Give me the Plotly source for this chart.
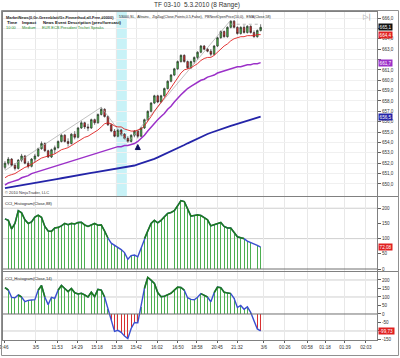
import plotly.graph_objects as go
from plotly.subplots import make_subplots

title_text = "TF 03-10  5.3.2010 (8 Range)"
bar_index = list(range(78))

opens = [651.6,652.0,652.4,651.8,651.5,652.3,652.7,652.0,651.7,652.4,
         652.7,653.4,653.9,653.2,652.6,653.3,653.5,654.1,654.7,654.1,
         653.9,654.8,654.5,655.4,655.9,655.5,655.4,656.2,655.9,656.7,
         657.2,656.5,655.7,655.1,654.6,655.2,654.8,654.4,654.1,654.7,
         655.1,654.6,655.4,656.2,657.0,657.8,658.5,657.9,658.5,659.2,
         659.9,660.5,661.1,661.8,662.4,661.8,661.2,661.8,662.2,662.7,
         663.3,663.0,662.8,662.5,663.3,664.1,664.7,664.2,665.1,665.7,
         665.1,664.5,665.1,664.6,665.2,664.6,664.2,664.8]
highs = [652.2,652.6,652.5,652.0,652.4,652.9,652.8,652.2,652.5,652.9,
         653.5,654.1,654.0,653.3,653.4,653.7,654.2,654.8,654.8,654.4,
         654.9,655.1,655.5,656.1,656.0,655.8,656.3,656.3,656.8,657.4,
         657.3,656.6,655.8,655.3,655.3,655.3,654.9,654.6,654.8,655.2,
         655.2,655.5,656.3,657.1,657.9,658.6,658.6,658.6,659.3,660.0,
         660.6,661.2,661.9,662.5,662.5,661.9,661.9,662.3,662.8,663.4,
         663.4,663.1,663.0,663.4,664.2,664.8,664.8,665.2,665.8,665.8,
         665.2,665.2,665.3,665.3,665.3,664.8,664.9,665.4]
lows = [651.4,651.8,651.7,651.3,651.4,652.1,651.9,651.5,651.6,652.1,
        652.6,653.3,653.1,652.5,652.5,652.9,653.4,654.0,654.0,653.6,
        653.8,654.3,654.4,655.3,655.3,655.1,655.3,655.7,655.8,656.6,
        656.4,655.6,655.0,654.5,654.5,654.6,654.3,654.0,654.0,654.5,
        654.4,654.5,655.3,656.1,656.9,657.7,657.8,657.8,658.4,659.1,
        659.8,660.4,661.0,661.7,661.7,661.1,661.1,661.6,662.0,662.6,
        662.9,662.7,662.3,662.4,663.2,664.0,664.1,664.1,665.0,665.0,
        664.4,664.4,664.5,664.5,664.5,664.1,664.1,664.7]
closes = [652.0,652.4,651.8,651.5,652.3,652.7,652.0,651.7,652.4,652.7,
          653.4,653.9,653.2,652.6,653.3,653.5,654.1,654.7,654.1,653.9,
          654.8,654.5,655.4,655.9,655.5,655.4,656.2,655.9,656.7,657.2,
          656.5,655.7,655.1,654.6,655.2,654.8,654.4,654.1,654.7,655.1,
          654.6,655.4,656.2,657.0,657.8,658.5,657.9,658.5,659.2,659.9,
          660.5,661.1,661.8,662.4,661.8,661.2,661.8,662.2,662.7,663.3,
          663.0,662.8,662.5,663.3,664.1,664.7,664.2,665.1,665.7,665.1,
          664.5,665.1,664.6,665.2,664.6,664.2,664.8,665.1]

ema_red = [650.6,650.8,650.9,651.0,651.2,651.4,651.6,651.7,651.9,652.1,
           652.3,652.5,652.6,652.7,652.8,652.9,653.1,653.3,653.4,653.5,
           653.7,653.9,654.1,654.3,654.5,654.6,654.8,655.0,655.2,655.5,
           655.8,655.9,655.8,655.6,655.5,655.5,655.3,655.2,655.1,655.1,
           655.2,655.3,655.6,656.0,656.5,657.0,657.4,657.8,658.3,658.8,
           659.3,659.8,660.3,660.7,661.0,661.1,661.2,661.4,661.6,661.9,
           662.1,662.2,662.2,662.4,662.7,663.0,663.3,663.5,663.8,664.0,
           664.1,664.2,664.2,664.3,664.3,664.3,664.4,664.4]
ma_purple = [649.9,650.1,650.2,650.3,650.4,650.6,650.7,650.8,651.0,651.1,
             651.2,651.3,651.4,651.5,651.6,651.7,651.8,651.9,652.0,652.1,
             652.2,652.3,652.4,652.5,652.6,652.7,652.8,652.9,653.0,653.1,
             653.2,653.3,653.4,653.5,653.6,653.6,653.7,653.7,653.8,653.9,
             654.1,654.4,654.7,655.1,655.5,655.9,656.2,656.5,656.8,657.2,
             657.5,657.9,658.3,658.6,658.9,659.2,659.4,659.6,659.8,660.0,
             660.1,660.3,660.4,660.5,660.7,660.8,660.9,661.0,661.1,661.2,
             661.3,661.3,661.4,661.5,661.5,661.6,661.6,661.7]
ma_blue = [649.60,649.66,649.72,649.78,649.84,649.90,649.96,650.02,650.08,650.14,
           650.20,650.25,650.30,650.35,650.40,650.45,650.50,650.55,650.60,650.65,
           650.70,650.76,650.82,650.88,650.94,651.00,651.06,651.12,651.17,651.22,
           651.28,651.33,651.38,651.43,651.48,651.53,651.58,651.63,651.70,651.78,
           651.88,651.98,652.08,652.18,652.30,652.42,652.56,652.70,652.84,652.98,
           653.12,653.28,653.44,653.60,653.76,653.92,654.08,654.24,654.40,654.55,
           654.70,654.82,654.94,655.06,655.18,655.30,655.40,655.50,655.60,655.70,
           655.80,655.90,656.00,656.10,656.20,656.30,656.40,656.50]

cci88 = [165,160,132,150,192,185,162,150,155,171,
         177,170,140,125,124,135,137,142,150,146,
         150,148,153,154,145,140,145,150,144,145,
         125,102,85,78,72,64,54,32,44,46,
         40,70,100,125,150,160,152,160,172,183,
         186,192,208,225,222,195,174,176,178,176,
         168,162,142,146,151,153,140,135,135,120,
         106,103,100,92,88,83,78,72.08]
cci14 = [155,141,98,96,112,100,72,80,82,84,
         140,168,100,55,98,92,140,168,150,132,
         150,125,118,122,112,100,128,102,145,140,
         100,30,-40,-102,-96,-108,-130,-145,-85,-50,
         -52,40,150,215,200,180,126,102,104,112,
         122,140,158,156,140,96,86,84,98,120,
         112,100,72,125,158,155,128,124,120,92,
         38,50,28,42,10,-40,-88,-99.73]

zigzag_idx = [0, 29, 37, 68]
zigzag_val = [651.3, 657.4, 654.0, 665.8]
level_idx = [68, 77]
level_val = [665.4, 665.4]
signal_idx = [40]
signal_val = [653.8]
news_band = [33.4, 36.7]

x_tick_pos = [-0.3, 9.3, 15.7, 21.7, 27.7, 33.7, 39.5, 45.8, 52.1, 57.8,
              63.9, 69.9, 78.0, 84.3, 91.0, 96.4, 102.4, 108.7]
x_tick_labels = ["9:46", "3/5", "11:53", "14:29", "15:18", "15:38", "15:42", "16:02", "16:50", "18:58",
                 "20:45", "21:32", "3/6", "00:26", "00:58", "01:18", "01:39", "02:03"]
# labels hidden behind the last-value markers are left blank, as in the original
price_ticks = [650, 651, 652, 653, 654, 655, 656, 657, 658, 659, 660, 661, 662, 663, 664, 665, 666]
price_tick_labels = ["650,0", "651,0", "652,0", "653,0", "654,0", "655,0", "656,0", "657,0", "658,0",
                     "659,0", "660,0", "661,0", "", "663,0", "664,0", "", "666,0"]
cci88_ticks = [0, 50, 100, 150, 200]
cci88_tick_labels = ["0", "50", "100", "150", "200"]
cci14_ticks = [-150, -100, -50, 0, 50, 100, 150, 200]
cci14_tick_labels = ["-150", "", "-50", "0", "50", "100", "150", "200"]
cci_levels = [100, 200]
cci14_levels = [-100, 100, 200]

FONT = "Liberation Sans, Arial, sans-serif"
GREEN_LINE = "#1e7b1e"
BLUE_LINE = "#3a4fd0"
HIST_GREEN = "#4caf50"
HIST_RED = "#d83030"

fig = make_subplots(rows=3, cols=1, shared_xaxes=True, vertical_spacing=0.01)

fig.add_trace(go.Candlestick(
    x=bar_index, open=opens, high=highs, low=lows, close=closes,
    increasing=dict(line=dict(color="#202020", width=0.6), fillcolor="#46b846"),
    decreasing=dict(line=dict(color="#202020", width=0.6), fillcolor="#d42a2a"),
    whiskerwidth=0, hoverinfo="skip"), row=1, col=1)
fig.add_trace(go.Scatter(x=zigzag_idx, y=zigzag_val, mode="lines",
                         line=dict(color="#a8a8a8", width=0.7), hoverinfo="skip"), row=1, col=1)
fig.add_trace(go.Scatter(x=level_idx, y=level_val, mode="lines",
                         line=dict(color="#a8a8a8", width=0.8, dash="dot"), hoverinfo="skip"), row=1, col=1)
fig.add_trace(go.Scatter(x=bar_index, y=ma_blue, mode="lines",
                         line=dict(color="#2424a8", width=1.8), hoverinfo="skip"), row=1, col=1)
fig.add_trace(go.Scatter(x=bar_index, y=ma_purple, mode="lines",
                         line=dict(color="#9b30c8", width=1.5), hoverinfo="skip"), row=1, col=1)
fig.add_trace(go.Scatter(x=bar_index, y=ema_red, mode="lines",
                         line=dict(color="#e02020", width=0.9), hoverinfo="skip"), row=1, col=1)
fig.add_trace(go.Scatter(x=signal_idx, y=signal_val, mode="markers",
                         marker=dict(symbol="arrow-up", size=5, color="#101060",
                                     line=dict(color="#101060", width=1)),
                         hoverinfo="skip"), row=1, col=1)

for row, vals, lvl in ((2, cci88, 100), (3, cci14, 100)):
    fig.add_trace(go.Bar(x=bar_index, y=vals, width=0.28,
                         marker=dict(color=[HIST_GREEN if v >= 0 else HIST_RED for v in vals],
                                     line=dict(width=0)),
                         hoverinfo="skip"), row=row, col=1)
    fig.add_trace(go.Scatter(x=bar_index, y=vals, mode="lines",
                             line=dict(color=BLUE_LINE, width=1.4), hoverinfo="skip"), row=row, col=1)
    fig.add_trace(go.Scatter(x=bar_index, y=[v if v >= lvl else None for v in vals], mode="lines",
                             line=dict(color=GREEN_LINE, width=1.6), connectgaps=False,
                             hoverinfo="skip"), row=row, col=1)

# plot area: x 3..377, y 12..340
H0, H1 = 12, 340
def py(px):
    return (H1 - px) / (H1 - H0)
def pxx(px):
    return (px - 3) / 374

axis_common = dict(showline=True, mirror=True, linecolor="#808080", linewidth=1,
                   zeroline=False, fixedrange=True, automargin=False)
fig.update_xaxes(range=[-0.6, 112.05], tickvals=x_tick_pos, ticktext=x_tick_labels,
                 showgrid=True, gridcolor="#e8e8e8", gridwidth=1,
                 rangeslider_visible=False, **axis_common)
fig.update_xaxes(showticklabels=True, ticks="outside", ticklen=2, tickcolor="#606060",
                 ticklabeloverflow="allow",
                 tickfont=dict(size=4.6, color="#333333", family=FONT), row=3, col=1)
fig.update_xaxes(showticklabels=False, ticks="", row=1, col=1)
fig.update_xaxes(showticklabels=False, ticks="", row=2, col=1)

ytick = dict(side="right", ticks="outside", ticklen=3, tickcolor="#606060",
             tickfont=dict(size=4.6, color="#333333", family=FONT))
fig.update_yaxes(domain=[py(196), 1.0], range=[648.84, 666.58], tickvals=price_ticks,
                 ticktext=price_tick_labels, showgrid=True, gridcolor="#f0f0f0",
                 row=1, col=1, **ytick, **axis_common)
fig.update_yaxes(domain=[py(271), py(197)], range=[-6.6, 237], tickvals=cci88_ticks,
                 ticktext=cci88_tick_labels, showgrid=False, row=2, col=1, **ytick, **axis_common)
fig.update_yaxes(domain=[0, py(272)], range=[-153, 247], tickvals=cci14_ticks,
                 ticktext=cci14_tick_labels, showgrid=False, row=3, col=1, **ytick, **axis_common)

shapes = []
shapes.append(dict(type="rect", xref="x", yref="y domain", x0=news_band[0], x1=news_band[1],
                   y0=0, y1=1, fillcolor="#c8f2f7", line=dict(width=0), layer="below"))
for lv in cci_levels:
    shapes.append(dict(type="line", xref="x domain", yref="y2", x0=0, x1=1, y0=lv, y1=lv,
                       line=dict(color="#cfcfcf", width=1), layer="below"))
shapes.append(dict(type="line", xref="x domain", yref="y2", x0=0, x1=1, y0=0, y1=0,
                   line=dict(color="#707070", width=1), layer="above"))
for lv in cci14_levels:
    shapes.append(dict(type="line", xref="x domain", yref="y3", x0=0, x1=1, y0=lv, y1=lv,
                       line=dict(color="#cfcfcf", width=1), layer="below"))
shapes.append(dict(type="line", xref="x domain", yref="y3", x0=0, x1=1, y0=0, y1=0,
                   line=dict(color="#707070", width=1), layer="above"))
for ypx in (196.5, 271.5):
    shapes.append(dict(type="line", xref="paper", yref="paper", x0=pxx(1.5), x1=pxx(398.5),
                       y0=py(ypx), y1=py(ypx), line=dict(color="#808080", width=1)))
shapes.append(dict(type="rect", xref="paper", yref="paper", x0=pxx(1.5), x1=pxx(398.5),
                   y0=py(355.5), y1=py(10.5), line=dict(color="#909090", width=1)))

def last_marker(yref, value, text, color):
    return dict(xref="paper", yref=yref, x=1, y=value, xanchor="left", yanchor="middle",
                xshift=1, text=text, showarrow=False, bgcolor=color, borderpad=0.6,
                font=dict(size=4.6, color="white", family=FONT))

def note(xpx, ypx, text, size, color, anchor="left", family=FONT):
    return dict(xref="paper", yref="paper", x=pxx(xpx), y=py(ypx), xanchor=anchor,
                yanchor="middle", text=text, showarrow=False,
                font=dict(size=size, color=color, family=family))

ann = [
    note(197, 5, title_text, 6.5, "#333333", anchor="center"),
    note(4, 17, "<b>MarketNews(0,Gr-Greenblatt/Gr-Finmethod,all-Free,#0000)</b>", 3.9, "#222222"),
    note(117, 17, "53000,SL,  Altrainc,  ZigZag(Close,Points,0.5,False),  PBNextOpenPrice(10,0),  EMA(Close,58)",
         3.6, "#222222"),
    note(5, 22.5, "<b>Time</b>", 4.4, "#111111"),
    note(20, 22.5, "<b>Impact</b>", 4.4, "#111111"),
    note(41, 22.5, "<b>News Event Description (prev/forecast)</b>", 4.2, "#111111"),
    note(4, 27.5, "10:00", 3.9, "#2e8b2e"),
    note(20, 27.5, "Medium", 3.9, "#2e8b2e"),
    note(40, 27.5, "EUR ECB President Trichet Speaks", 3.9, "#2e8b2e"),
    note(373, 17, "▷|", 7, "#909090", anchor="right", family="DejaVu Sans"),
    note(3, 192, "© 2010 NinjaTrader, LLC", 4.0, "#333333"),
    note(3, 203.5, "CCI_Histogram(Close,88)", 4.1, "#222222"),
    note(3, 278.5, "CCI_Histogram(Close,14)", 4.1, "#222222"),
    last_marker("y", closes[-1], f"{closes[-1]:.1f}".replace(".", ","), "#111111"),
    last_marker("y", ema_red[-1], f"{ema_red[-1]:.1f}".replace(".", ","), "#e02020"),
    last_marker("y", ma_purple[-1], f"{ma_purple[-1]:.1f}".replace(".", ","), "#9b30c8"),
    last_marker("y", ma_blue[-1], f"{ma_blue[-1]:.1f}".replace(".", ","), "#2424a8"),
    last_marker("y2", cci88[-1], f"{cci88[-1]:.2f}".replace(".", ","), "#e02020"),
    last_marker("y3", cci14[-1], f"{cci14[-1]:.2f}".replace(".", ","), "#e02020"),
]

fig.update_layout(width=400, height=358, margin=dict(l=3, r=23, t=12, b=18, autoexpand=False),
                  paper_bgcolor="white", plot_bgcolor="white", showlegend=False,
                  bargap=0, hovermode=False, shapes=shapes, annotations=ann,
                  font=dict(family=FONT, size=6, color="#333333"))

fig.write_html("out.html", config={"displayModeBar": False, "staticPlot": True},
               post_script="document.body.style.margin='0';document.body.style.overflow='hidden';")
